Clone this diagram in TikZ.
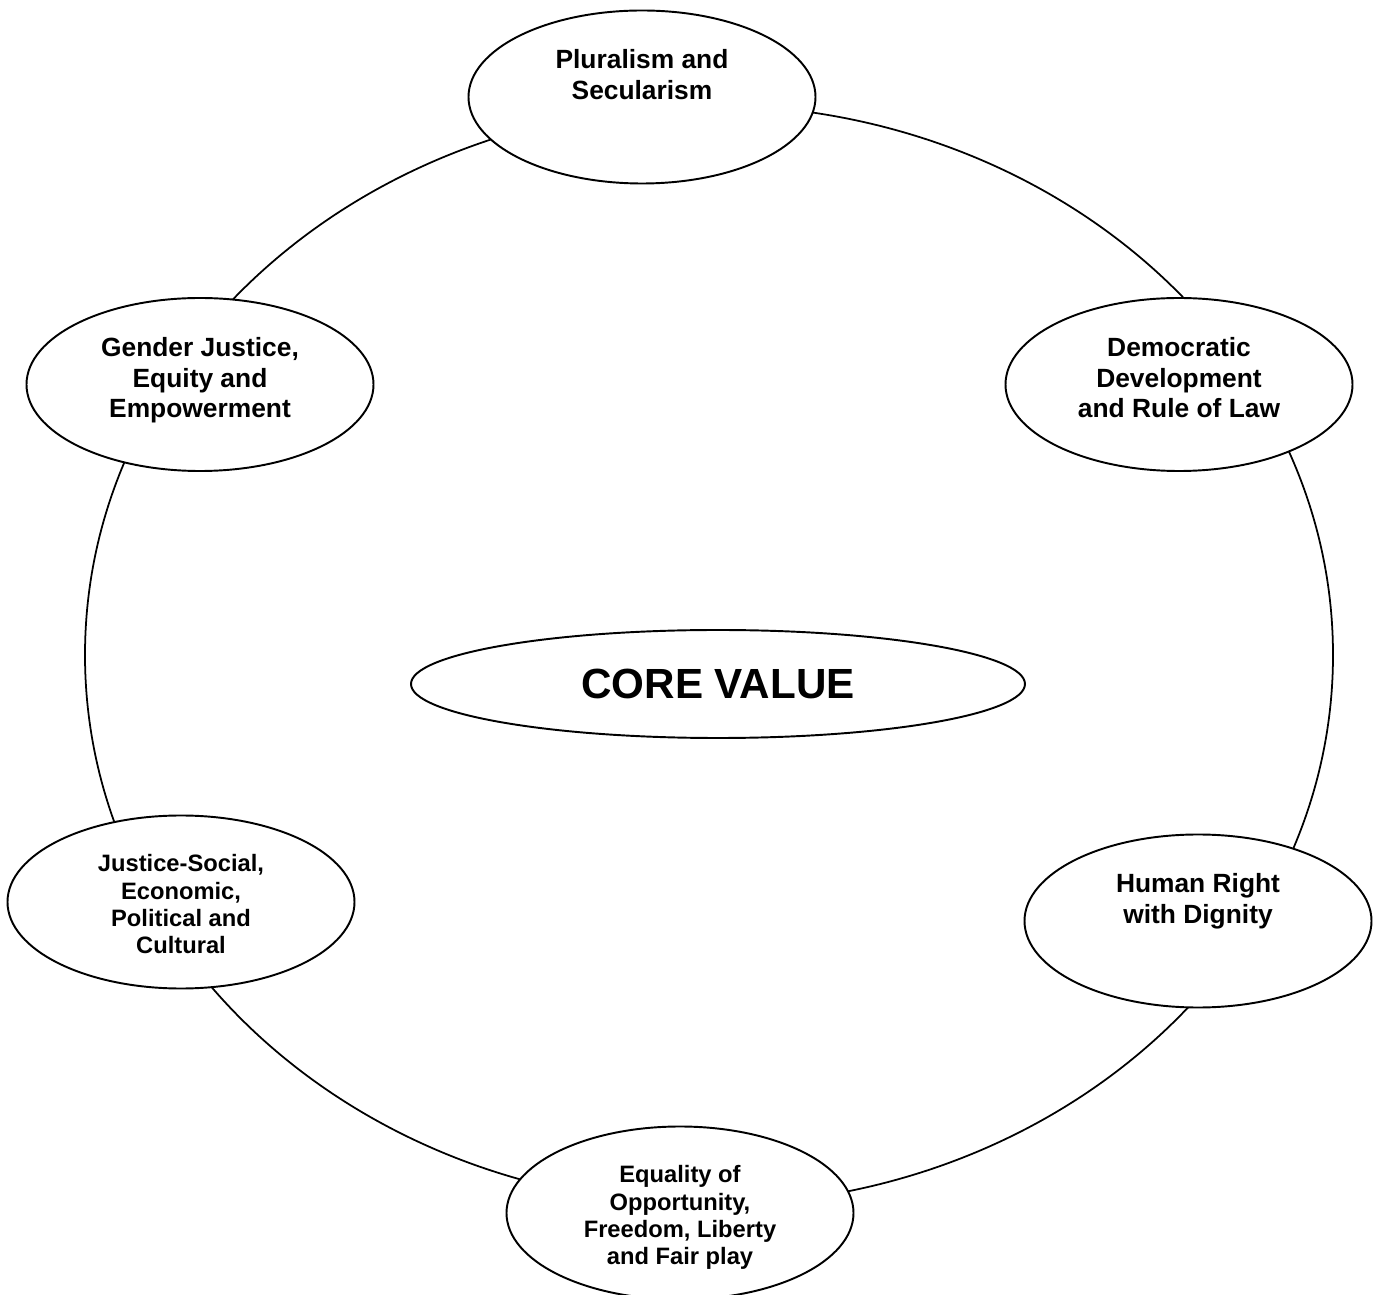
\documentclass[tikz,border=0pt]{standalone}
\usepackage{fontspec}
\setmainfont{Liberation Sans}
\usetikzlibrary{shapes.geometric,backgrounds}

\tikzset{
  bubble/.style={ellipse, draw, fill=white, inner sep=0pt,
    minimum width=6.94cm, minimum height=3.46cm,
    font=\bfseries\fontsize{15}{17.6}\selectfont},
  smalltext/.style={font=\bfseries\fontsize{13.5}{15.6}\selectfont},
  corebox/.style={ellipse, draw, fill=white, inner sep=0pt,
    minimum width=12.28cm, minimum height=2.16cm,
    font=\bfseries\fontsize{24}{28}\selectfont}
}
\newcommand{\toptext}[1]{\parbox[c][1.9cm][t]{4.6cm}{\centering #1}}

\begin{document}
\begin{tikzpicture}[line width=1.1pt]
    \useasboundingbox (0,0) rectangle (27.56,25.88);
    \coordinate (ring) at (14.18,12.78);
    \node[bubble] (plur) at (12.84,23.94) {\toptext{Pluralism and\\Secularism}};
    \node[bubble] (demo) at (23.58,18.19) {\toptext{Democratic\\Development\\and Rule of Law}};
    \node[bubble] (human) at (23.96,7.46) {\toptext{Human Right\\with Dignity}};
    \node[bubble,smalltext] (equal) at (13.6,1.62) {\toptext{Equality of\\Opportunity,\\Freedom, Liberty\\and Fair play}};
    \node[bubble,smalltext] (justice) at (3.62,7.84) {\toptext{Justice-Social,\\Economic,\\Political and\\Cultural}};
    \node[bubble] (gender) at (4.0,18.19) {\toptext{Gender Justice,\\Equity and\\Empowerment}};
    \node[corebox] (core) at (14.36,12.2) {CORE VALUE};
    % ring behind the values
    \begin{pgfonlayer}{background}
        \draw[line width=1pt] (ring) ellipse [x radius=12.48, y radius=11.0];
    \end{pgfonlayer}
\end{tikzpicture}
\end{document}
